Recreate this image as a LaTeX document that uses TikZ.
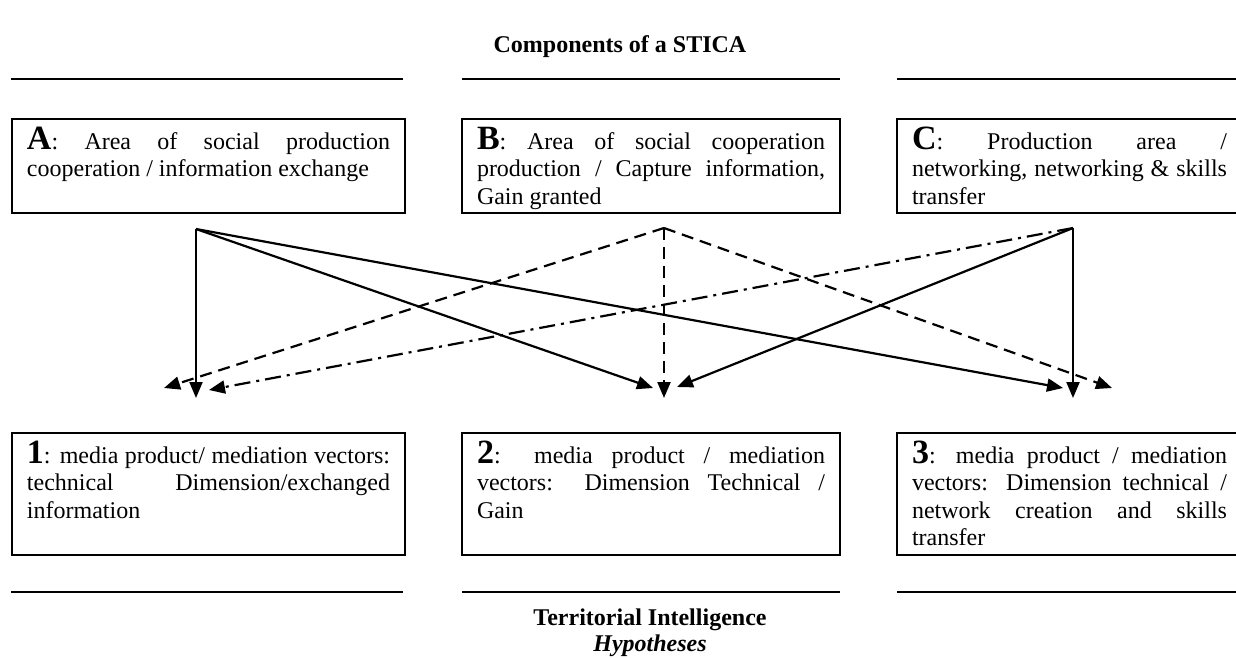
\documentclass[tikz,border=0pt]{standalone}
\usepackage{fontspec}
\setmainfont{Liberation Serif}
\usetikzlibrary{arrows.meta}
\newcommand\lab[1]{{\fontsize{34}{34}\selectfont\bfseries #1}}
\newcommand\jl[1]{\makebox[\linewidth][s]{#1}}
\newcommand\fr{\rule{0pt}{30pt}}
\begin{document}
\begin{tikzpicture}[x=1pt,y=-1pt,
  every node/.style={font=\fontsize{24}{27.6}\selectfont},
  box/.style={draw, line width=2pt, inner xsep=15pt, inner ysep=0pt, anchor=north west},
  rulel/.style={line width=2.4pt},
  conn/.style={line width=2.2pt, -{Triangle[length=16pt,width=13pt]}},
  dsh/.style={dash pattern=on 12pt off 7pt},
  dshdot/.style={dash pattern=on 16pt off 6pt on 3pt off 6pt},
  ttl/.style={anchor=base, font=\fontsize{24}{28}\selectfont\bfseries}
]
\useasboundingbox (0,0) rectangle (1236,657);

\node[ttl] (title) at (620,52) {Components of a STICA};
\node[ttl] (ti) at (650,625) {Territorial Intelligence};
\node[ttl, font=\fontsize{24}{28}\selectfont\bfseries\itshape] (hyp) at (650,651) {Hypotheses};

% rules
\draw[rulel] (11,79) -- (403,79);
\draw[rulel] (462,79) -- (840,79);
\draw[rulel] (897,79) -- (1240,79);
\draw[rulel] (11,592) -- (403,592);
\draw[rulel] (462,592) -- (840,592);
\draw[rulel] (897,592) -- (1240,592);

% top boxes
\node[box] (A) at (11,118) {\parbox[t][94pt][t]{363pt}{\jl{\fr\lab{A}: Area of social production}\par cooperation / information exchange}};
\node[box] (B) at (461,118) {\parbox[t][94pt][t]{348pt}{\jl{\fr\lab{B}: Area of social cooperation}\par\jl{production / Capture information,}\par Gain granted}};
\node[box] (C) at (896,118) {\parbox[t][94pt][t]{315pt}{\jl{\fr\lab{C}: Production area /}\par\jl{networking, networking \& skills}\par transfer}};

% bottom boxes
\node[box] (H1) at (11,432) {\parbox[t][122pt][t]{363pt}{\jl{\fr\lab{1}: media product/ mediation vectors:}\par\jl{technical Dimension/exchanged}\par information}};
\node[box] (H2) at (461,432) {\parbox[t][122pt][t]{348pt}{\jl{\fr\lab{2}: media product / mediation}\par\jl{vectors: Dimension Technical /}\par Gain}};
\node[box] (H3) at (896,432) {\parbox[t][122pt][t]{315pt}{\jl{\fr\lab{3}: media product / mediation}\par\jl{vectors: Dimension technical /}\par\jl{network creation and skills}\par transfer}};

% connector ends
\coordinate (oA) at (196,229);
\coordinate (oB) at (664,228);
\coordinate (oC) at (1073,228);
\coordinate (t1) at (196,398);
\coordinate (t1b) at (164,388);
\coordinate (t1c) at (209,390);
\coordinate (t2a) at (653,388);
\coordinate (t2) at (664,398);
\coordinate (t2c) at (677,387);
\coordinate (t3a) at (1063,388);
\coordinate (t3b) at (1112,388);
\coordinate (t3) at (1073,398);

% from A
\draw[conn] (oA) -- (t1);
\draw[conn] (oA) -- (t2a);
\draw[conn] (oA) -- (t3a);
% from B
\draw[conn, dsh] (oB) -- (t1b);
\draw[conn, dsh] (oB) -- (t2);
\draw[conn, dsh] (oB) -- (t3b);
% from C
\draw[conn, dshdot] (oC) -- (t1c);
\draw[conn] (oC) -- (t2c);
\draw[conn] (oC) -- (t3);
\end{tikzpicture}
\end{document}
